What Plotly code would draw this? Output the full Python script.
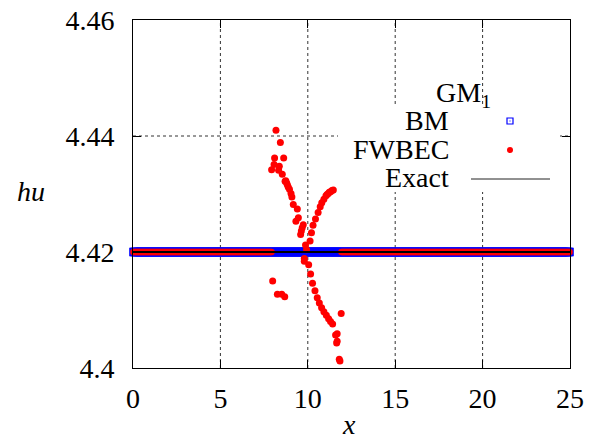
import numpy as np
import plotly.graph_objects as go

# ---------------- data ----------------
y_exact = 4.42
x_domain = [0.0, 25.0]
y_domain = [4.40, 4.46]

# mesh cell centres used by both schemes (dx = 0.05)
x_cells = np.arange(0.025, 25.0, 0.05)

# BM: flat at 4.42 everywhere
bm_y_value = 4.42

# FWBEC: flat at 4.42 outside the perturbed zone
fw_flat_y = 4.42
fw_perturb_lo = 7.95
fw_perturb_hi = 11.9

# FWBEC scattered values in the perturbed zone
fw_x = [7.93, 8.07, 8.10, 8.18, 8.33, 8.37, 8.43, 8.54, 8.62, 8.70, 8.74, 8.79,
        8.83, 8.88, 8.95, 9.04, 9.09, 9.17, 9.32, 9.40, 9.46, 9.59, 9.63, 9.68,
        9.74, 9.87, 9.93, 9.80, 9.80, 10.05,
        10.13, 10.21, 10.30, 10.44, 10.59, 10.71, 10.80, 10.92, 11.04, 11.10,
        11.17, 11.23, 11.30, 11.38, 11.46,
        10.16, 10.27, 10.41, 10.54, 10.66, 10.79, 10.92, 11.06, 11.19, 11.30,
        11.42, 11.91, 11.59, 11.68, 11.65, 11.68, 11.84, 11.80,
        7.99, 8.26, 8.51, 8.68]
fw_y = [4.4342, 4.4351, 4.4362, 4.4410, 4.4341, 4.4348, 4.4389, 4.4334, 4.4362,
        4.4322, 4.4323, 4.4319, 4.4316, 4.4312, 4.4308, 4.4301, 4.4295, 4.4282,
        4.4253, 4.4274, 4.4259, 4.4230, 4.4236, 4.4242, 4.4247, 4.4212, 4.4204,
        4.4189, 4.4184, 4.4178,
        4.4219, 4.4233, 4.4246, 4.4257, 4.4268, 4.4278, 4.4285, 4.4291, 4.4297,
        4.4299, 4.4301, 4.4303, 4.4304, 4.4306, 4.4307,
        4.4162, 4.4146, 4.4133, 4.4121, 4.4112, 4.4104, 4.4097, 4.4091, 4.4085,
        4.4080, 4.4076, 4.4094, 4.4057, 4.4059, 4.4043, 4.4046, 4.4012, 4.4015,
        4.4150, 4.4127, 4.4127, 4.4123]

x_ticks = [0, 5, 10, 15, 20, 25]
y_ticks = [4.40, 4.42, 4.44, 4.46]
y_ticktext = ["4.4", "4.42", "4.44", "4.46"]
x_grid = [5, 10, 15, 20]
y_grid = [4.42, 4.44]

legend_title = "GM<sub>1</sub>"
legend_names = ["BM", "FWBEC", "Exact"]

# ---------------- build ----------------
FONT = "Liberation Serif"
FS = 28
W, H = 593, 439
ML, MR, MT, MB = 133, 23, 20, 71
PW, PH = W - ML - MR, H - MT - MB

def px(xp):
    return (xp - ML) / PW

def py(yp):
    return (H - MB - yp) / PH

bm_x = list(x_cells)
bm_y = [bm_y_value] * len(bm_x)
fw_flat_x = [v for v in x_cells if v <= fw_perturb_lo or v >= fw_perturb_hi]

fig = go.Figure()
fig.add_trace(go.Scatter(
    x=bm_x, y=bm_y, mode="markers", name=legend_names[0], cliponaxis=False,
    marker=dict(symbol="square-open-dot", size=7, color="#0000ff",
                line=dict(width=1.5, color="#0000ff")),
    showlegend=False))
fig.add_trace(go.Scatter(
    x=fw_flat_x, y=[fw_flat_y] * len(fw_flat_x), mode="markers", name=legend_names[1],
    cliponaxis=False,
    marker=dict(symbol="circle", size=6.5, color="#ff0000", line=dict(width=0)),
    showlegend=False))
fig.add_trace(go.Scatter(
    x=fw_x, y=fw_y, mode="markers", name=legend_names[1], cliponaxis=False,
    marker=dict(symbol="circle", size=7, color="#ff0000", line=dict(width=0)),
    showlegend=False))
fig.add_trace(go.Scatter(
    x=x_domain, y=[y_exact, y_exact], mode="lines", name=legend_names[2],
    line=dict(color="black", width=2), showlegend=False))

axis_common = dict(
    showline=True, linecolor="black", linewidth=1, mirror="allticks",
    ticks="inside", ticklen=8, tickcolor="black", tickwidth=1,
    showgrid=False, zeroline=False, automargin=False,
    tickfont=dict(family=FONT, size=FS, color="black"),
)
fig.update_xaxes(range=x_domain, tickvals=x_ticks, ticklabelstandoff=5, **axis_common)
fig.update_yaxes(range=y_domain, tickvals=y_ticks, ticktext=y_ticktext,
                 ticklabelstandoff=12, **axis_common)

grid_line = dict(color="#333333", width=1, dash="dot")
shapes = []
for gx in x_grid:
    shapes.append(dict(type="line", xref="x", yref="paper", x0=gx, x1=gx, y0=0, y1=1,
                       line=grid_line, layer="below"))
for gy in y_grid:
    shapes.append(dict(type="line", xref="paper", yref="y", x0=0, x1=1, y0=gy, y1=gy,
                       line=grid_line, layer="below"))
shapes += [
    # white legend box background (hides grid)
    dict(type="rect", xref="paper", yref="paper", x0=px(338), x1=px(560),
         y0=py(192), y1=py(107), fillcolor="white", line=dict(width=0), layer="below"),
    # BM key
    dict(type="rect", xref="paper", yref="paper", x0=px(507), x1=px(513),
         y0=py(124), y1=py(118), line=dict(color="#0000ff", width=1.2), layer="above"),
    dict(type="rect", xref="paper", yref="paper", x0=px(509.5), x1=px(510.5),
         y0=py(121.5), y1=py(120.5), fillcolor="#0000ff", line=dict(width=0), layer="above"),
    # FWBEC key
    dict(type="circle", xref="paper", yref="paper", x0=px(507), x1=px(513),
         y0=py(153), y1=py(147), fillcolor="#ff0000", line=dict(width=0), layer="above"),
    # Exact key
    dict(type="line", xref="paper", yref="paper", x0=px(471), x1=px(550),
         y0=py(179), y1=py(179), line=dict(color="#222222", width=1), layer="above"),
]

ann_font = dict(family=FONT, size=FS, color="black")
annotations = [
    dict(text=legend_title, x=px(463), y=py(94), xref="paper", yref="paper",
         showarrow=False, xanchor="center", yanchor="middle", font=ann_font),
    dict(text=legend_names[0], x=px(451), y=py(120), xref="paper", yref="paper",
         showarrow=False, xanchor="right", yanchor="middle", font=ann_font),
    dict(text=legend_names[1], x=px(451), y=py(149), xref="paper", yref="paper",
         showarrow=False, xanchor="right", yanchor="middle", font=ann_font),
    dict(text=legend_names[2], x=px(451), y=py(178), xref="paper", yref="paper",
         showarrow=False, xanchor="right", yanchor="middle", font=ann_font),
    dict(text="<i>hu</i>", x=px(31), y=py(192), xref="paper", yref="paper",
         showarrow=False, xanchor="center", yanchor="middle", font=ann_font),
    dict(text="<i>x</i>", x=px(349), y=py(424), xref="paper", yref="paper",
         showarrow=False, xanchor="center", yanchor="middle", font=ann_font),
]

fig.update_layout(
    width=W, height=H, autosize=False,
    margin=dict(l=ML, r=MR, t=MT, b=MB),
    paper_bgcolor="white", plot_bgcolor="white",
    shapes=shapes, annotations=annotations, showlegend=False,
)

fig.write_html("out.html", config={"displayModeBar": False, "staticPlot": True},
               post_script="document.body.style.margin='0';document.body.style.overflow='hidden';")

# make sure the page has no default body margin
with open("out.html", "r", encoding="utf-8") as f:
    html = f.read()
html = html.replace("<head>", "<head><style>html,body{margin:0;padding:0;overflow:hidden;}</style>", 1)
with open("out.html", "w", encoding="utf-8") as f:
    f.write(html)
